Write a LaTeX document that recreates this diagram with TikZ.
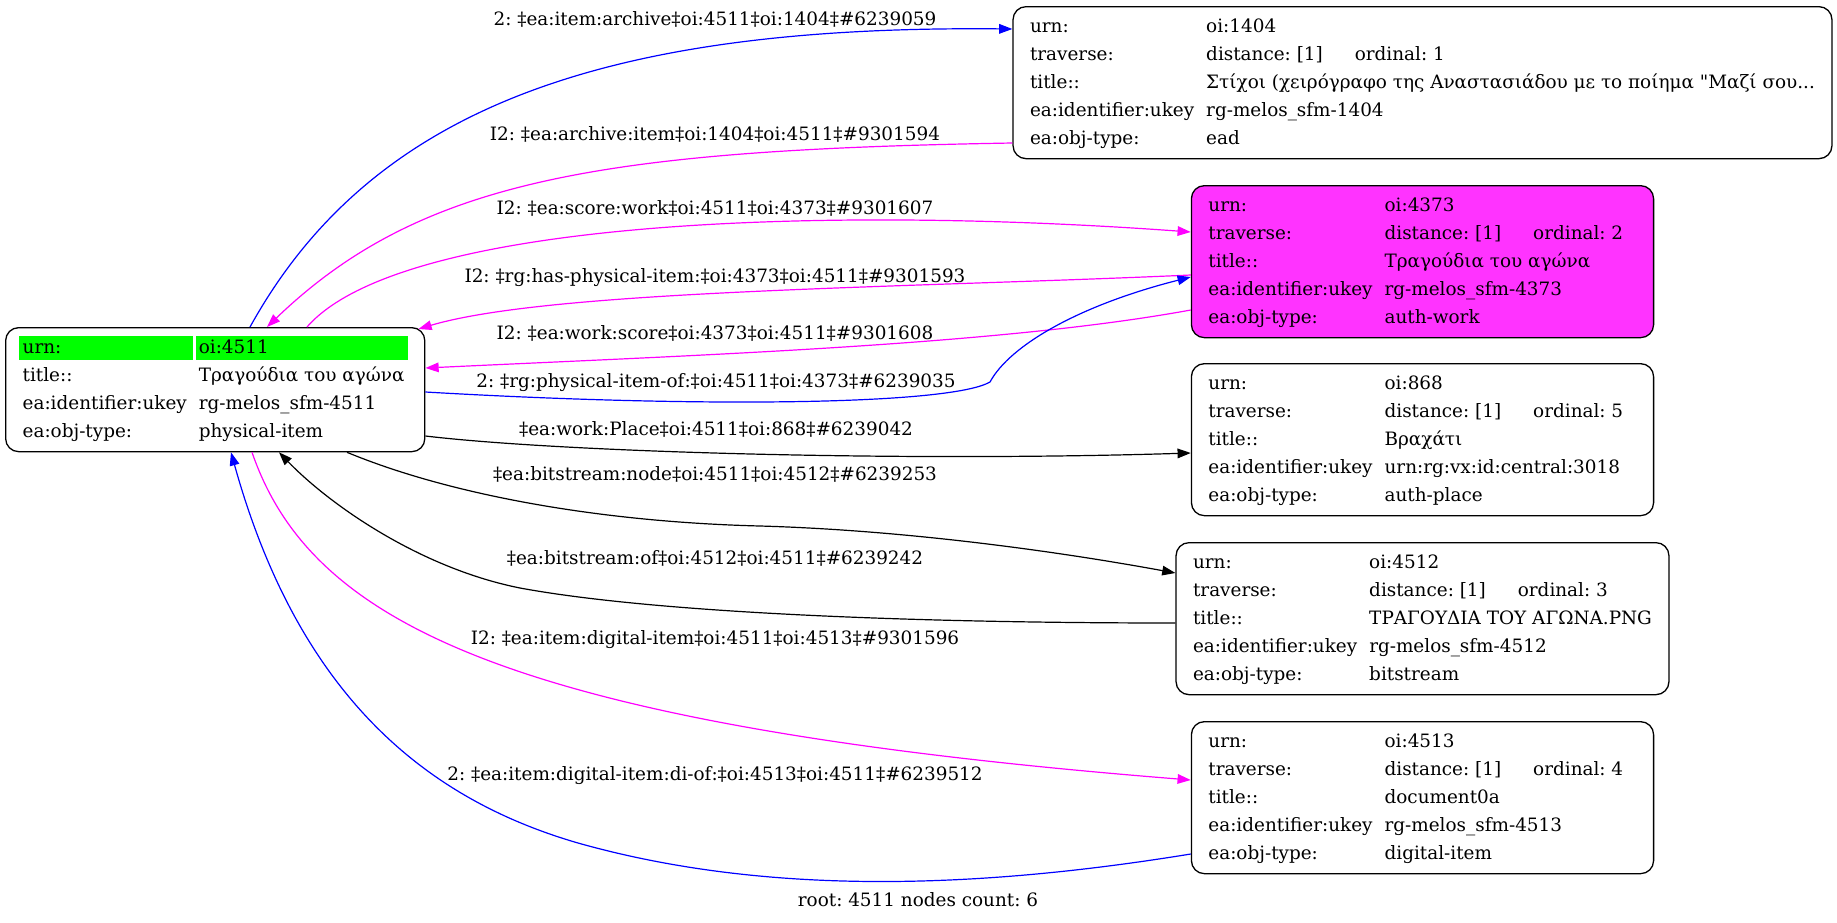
\documentclass[tikz,border=0pt]{standalone}
\usepackage{fontspec}
\newfontfamily\graphfont{DejaVu Serif}
\usetikzlibrary{arrows.meta,calc}

\definecolor{rootgreen}{RGB}{0,255,0}
\definecolor{workpink}{RGB}{255,51,255}
\definecolor{linkpink}{RGB}{255,0,255}
\definecolor{linkblue}{RGB}{0,0,255}

\newcommand\recfont{\graphfont\fontsize{9.2}{14}\selectfont\frenchspacing}
\newcommand\trav[1]{\makebox[126pt][l]{distance: [1]\hspace{16pt}ordinal: #1}}
\newlength\lblw
\newlength\valw
\AtBeginDocument{%
  \settowidth\lblw{\recfont ea:identifier:ukey}%
  \settowidth\valw{\recfont Τραγούδια του αγώνα}}
\newcommand\hlcell[4]{\hspace{-#1}{\fboxsep=0pt\colorbox{rootgreen}{\rule[-3.5pt]{0pt}{12pt}\hspace{#1}\makebox[#2][l]{#4}\hspace{#3}}}\hspace{-#3}}

\begin{document}
\begin{tikzpicture}[x=0.5pt,y=-0.5pt,
  record/.style={draw, line width=0.65pt, rounded corners=6.5pt, inner xsep=8.5pt, inner ysep=3pt, anchor=north, font=\recfont},
  link/.style={line width=0.6pt, -{Triangle[length=6.6pt,width=4.8pt]}},
  tag/.style={anchor=base, inner sep=0pt, font=\recfont}]
\useasboundingbox (0,0) rectangle (1837,922);

% records
\node[record, anchor=north west] (root) at (5,327) {\begin{tabular}{@{}l@{\hspace{6pt}}l@{}}
\hlcell{1.85pt}{\lblw}{3.15pt}{urn:} & \hlcell{1.35pt}{\valw}{1.65pt}{oi:4511}\\
title:: & Τραγούδια του αγώνα\\
ea:identifier:ukey & rg-melos\_sfm-4511\\
ea:obj-type: & physical-item
\end{tabular}};

\node[record] (n1404) at (1422.5,6) {\begin{tabular}{@{}l@{\hspace{6pt}}l@{}}
urn: & oi:1404\\
traverse: & \trav{1}\\
title:: & Στίχοι (χειρόγραφο της Αναστασιάδου με το ποίημα "Μαζί σου...\\
ea:identifier:ukey & rg-melos\_sfm-1404\\
ea:obj-type: & ead
\end{tabular}};

\node[record, fill=workpink] (n4373) at (1422.5,185) {\begin{tabular}{@{}l@{\hspace{6pt}}l@{}}
urn: & oi:4373\\
traverse: & \trav{2}\\
title:: & Τραγούδια του αγώνα\\
ea:identifier:ukey & rg-melos\_sfm-4373\\
ea:obj-type: & auth-work
\end{tabular}};

\node[record] (n868) at (1422.5,363) {\begin{tabular}{@{}l@{\hspace{6pt}}l@{}}
urn: & oi:868\\
traverse: & \trav{5}\\
title:: & Βραχάτι\\
ea:identifier:ukey & urn:rg:vx:id:central:3018\\
ea:obj-type: & auth-place
\end{tabular}};

\node[record] (n4512) at (1422.5,542) {\begin{tabular}{@{}l@{\hspace{6pt}}l@{}}
urn: & oi:4512\\
traverse: & \trav{3}\\
title:: & ΤΡΑΓΟΥΔΙΑ ΤΟΥ ΑΓΩΝΑ.PNG\\
ea:identifier:ukey & rg-melos\_sfm-4512\\
ea:obj-type: & bitstream
\end{tabular}};

\node[record] (n4513) at (1422.5,721) {\begin{tabular}{@{}l@{\hspace{6pt}}l@{}}
urn: & oi:4513\\
traverse: & \trav{4}\\
title:: & document0a\\
ea:identifier:ukey & rg-melos\_sfm-4513\\
ea:obj-type: & digital-item
\end{tabular}};

% links
\draw[link, linkblue] ($(root.north west)+(245,0)$) .. controls (370,110) and (600,25) .. ($(n1404.north west)+(0,23)$);
\draw[link, linkpink] ($(n1404.north west)+(0,137)$) .. controls (600,150) and (420,180) .. ($(root.north west)+(262,0)$);
\draw[link, linkpink] ($(root.north west)+(302,0)$) .. controls (400,220) and (820,205) .. ($(n4373.north west)+(0,47)$);
\draw[link, linkpink] ($(n4373.north west)+(0,90)$) .. controls (900,288) and (550,290) .. ($(root.north east)+(-7,2)$);
\draw[link, linkpink] ($(n4373.north west)+(0,125)$) .. controls (1000,345) and (700,355) .. ($(root.north east)+(0,41)$);
\draw[link, linkblue] ($(root.north east)+(0,65)$) .. controls (700,408) and (950,405) .. (990,382)
  .. controls (1010,345) and (1080,305) .. ($(n4373.north west)+(0,92)$);
\draw[link] ($(root.north east)+(0,109)$) .. controls (560,452) and (900,462) .. ($(n868.north west)+(0,90)$);
\draw[link] ($(root.south west)+(342,0)$) .. controls (450,495) and (600,522) .. (760,526)
  .. controls (900,530) and (1050,550) .. ($(n4512.north west)+(0,31)$);
\draw[link] ($(n4512.north west)+(0,81)$) .. controls (900,623) and (650,612) .. (520,588)
  .. controls (420,568) and (330,505) .. ($(root.south west)+(274,0)$);
\draw[link, linkpink] ($(root.south west)+(247,0)$) .. controls (310,620) and (500,725) .. ($(n4513.north west)+(0,59)$);
\draw[link, linkblue] ($(n4513.north west)+(0,133)$) .. controls (1000,885) and (780,900) .. (578,843)
  .. controls (430,800) and (300,700) .. ($(root.south west)+(226,0)$);

% link labels
\node[tag] (tArchive) at (715,25) {2: ‡ea:item:archive‡oi:4511‡oi:1404‡\#6239059};
\node[tag] (tItem) at (715,140) {I2: ‡ea:archive:item‡oi:1404‡oi:4511‡\#9301594};
\node[tag] (tScoreWork) at (715,214) {I2: ‡ea:score:work‡oi:4511‡oi:4373‡\#9301607};
\node[tag] (tHasPhys) at (715,282) {I2: ‡rg:has-physical-item:‡oi:4373‡oi:4511‡\#9301593};
\node[tag] (tWorkScore) at (715,339) {I2: ‡ea:work:score‡oi:4373‡oi:4511‡\#9301608};
\node[tag] (tPhysOf) at (716,387) {2: ‡rg:physical-item-of:‡oi:4511‡oi:4373‡\#6239035};
\node[tag] (tPlace) at (716,435) {‡ea:work:Place‡oi:4511‡oi:868‡\#6239042};
\node[tag] (tBsNode) at (715,480) {‡ea:bitstream:node‡oi:4511‡oi:4512‡\#6239253};
\node[tag] (tBsOf) at (715,564) {‡ea:bitstream:of‡oi:4512‡oi:4511‡\#6239242};
\node[tag] (tDigital) at (715,644) {I2: ‡ea:item:digital-item‡oi:4511‡oi:4513‡\#9301596};
\node[tag] (tDiOf) at (715,780) {2: ‡ea:item:digital-item:di-of:‡oi:4513‡oi:4511‡\#6239512};

\node[tag] (footer) at (918,906) {root: 4511 nodes count: 6};
\end{tikzpicture}
\end{document}
